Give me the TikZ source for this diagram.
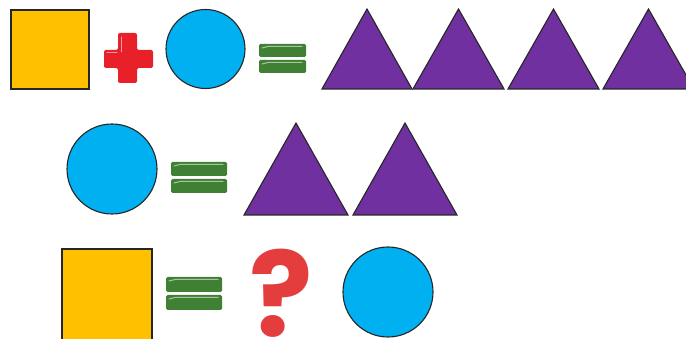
\documentclass[tikz,border=0pt]{standalone}
\usepackage{fontspec}
\newfontfamily\qfont{Poppins}[BoldFont={* Bold}]
\definecolor{sqy}{HTML}{FFC000}
\definecolor{cblue}{HTML}{00B0F0}
\definecolor{tpurple}{HTML}{7030A0}
\definecolor{pred}{HTML}{E8202A}
\definecolor{egreen}{HTML}{3F8034}
\definecolor{qred}{HTML}{E43D3D}
\tikzset{
  sq/.style={draw=black!85, line width=1.1pt, fill=sqy},
  circ/.style={draw=black!85, line width=1.1pt, fill=cblue},
  tri/.style={draw=black!85, line width=1.1pt, fill=tpurple, line join=miter},
  eqbar/.style={fill=egreen, rounded corners=1.5pt},
  shine/.style={draw=white, opacity=0.55, line width=1pt, line cap=round},
}
\newcommand{\eqsign}[5]{%
  \fill[eqbar] (#1,#3) rectangle (#2,#3+#5);
  \fill[eqbar] (#1,#4) rectangle (#2,#4+#5);
  \draw[shine] (#1+3,#3+4) -- (#1+9,#3+2.5) -- (#2-4,#3+2.5);
  \draw[shine] (#1+3,#4+4) -- (#1+9,#4+2.5) -- (#2-4,#4+2.5);
}
\newcommand{\trig}[4]{%
  \filldraw[tri] (#1,#4) -- (#3,#2) -- (#3+#3-#1,#4) -- cycle;
}
\begin{document}
\begin{tikzpicture}[x=1pt,y=-1pt]
\useasboundingbox (0,0) rectangle (686,339);
\begin{scope}
\clip (0,0) rectangle (686,339);
% Row 1
\filldraw[sq] (11,10) rectangle (89,89);
\fill[pred, rounded corners=2pt] (118,33) -- (137,33) -- (137,50) -- (153,50) -- (153,68) -- (137,68) -- (137,83) -- (118,83) -- (118,68) -- (104,68) -- (104,50) -- (118,50) -- cycle;
\draw[shine] (121,37) -- (121,52) (107,53) -- (117,53);
\filldraw[circ] (205.5,49) circle (39.5);
\eqsign{259}{306}{44}{60}{13}
\trig{322}{9}{367}{89}
\trig{413}{9}{458.5}{89}
\trig{508}{9}{553.5}{89}
\trig{603}{9}{648.5}{89}
% Row 2
\filldraw[circ] (112,169) circle (45);
\eqsign{171}{227}{162}{179}{14}
\trig{244}{123}{296}{215}
\trig{353}{123}{405}{215}
% Row 3
\filldraw[sq] (62,249) rectangle (152,340);
\eqsign{166}{222}{277}{295}{15}
\filldraw[circ] (388,292) circle (45);
\end{scope}
\node[text=qred, font=\qfont\bfseries\fontsize{118}{118}\selectfont, anchor=south, inner sep=0pt] (q) at (281,337.5) {?};
\end{tikzpicture}
\end{document}
